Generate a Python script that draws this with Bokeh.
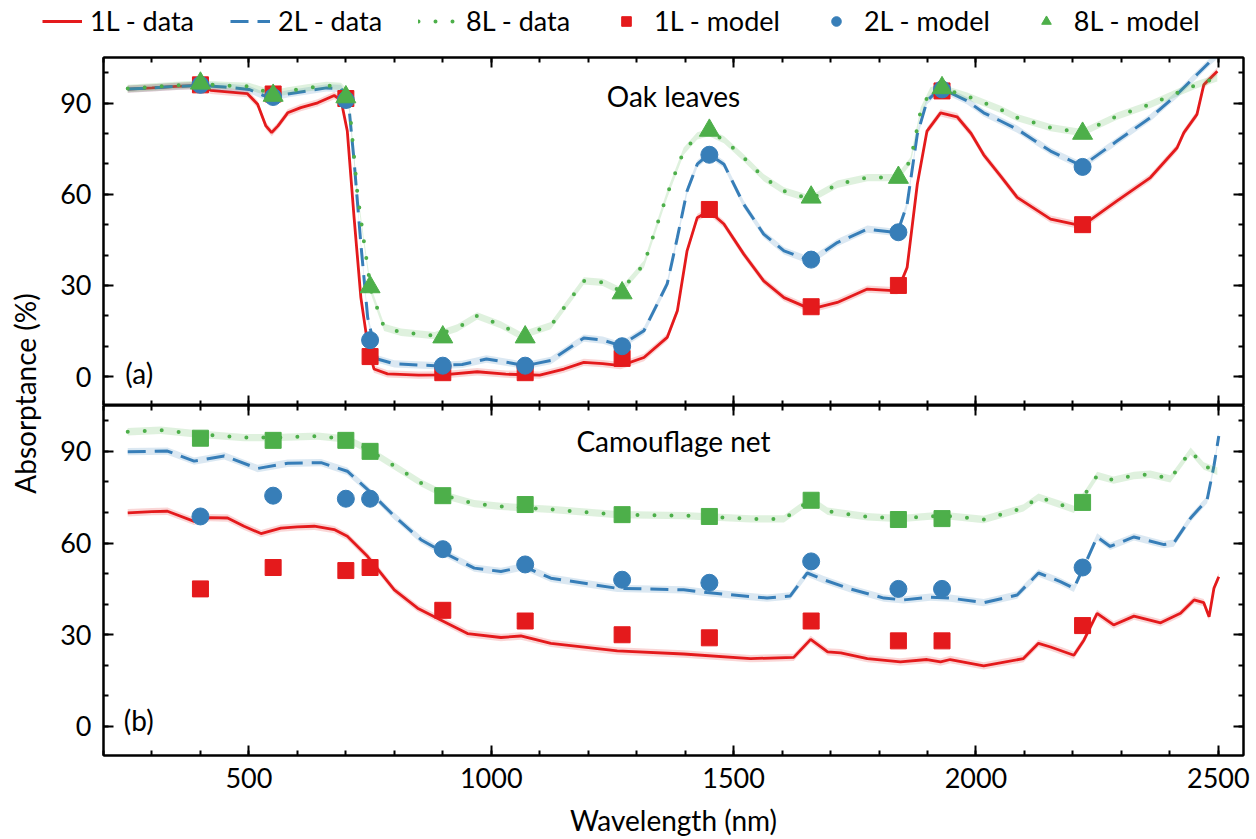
import numpy as np
from bokeh.plotting import figure
from bokeh.models import (LinearAxis, SingleIntervalTicker, Legend, LegendItem, Label, Range1d,
                          CustomJSTickFormatter)
from bokeh.layouts import row, column
from bokeh.embed import file_html
from bokeh.resources import INLINE

# ---------------- data ----------------
# Oak leaves (panel a) - measured curves
oak_wl_1L = [250, 300, 350, 400, 421, 450, 497, 518, 535, 547, 560, 580, 607, 642, 676, 690, 703, 717, 731, 745, 758, 786, 850, 900, 971, 1030, 1100, 1150, 1191, 1230, 1267, 1315, 1363, 1384, 1404, 1425, 1449, 1480, 1521, 1562, 1604, 1659, 1714, 1776, 1838, 1858, 1879, 1899, 1927, 1961, 1990, 2016, 2051, 2085, 2154, 2219, 2291, 2360, 2415, 2429, 2456, 2470, 2498]
oak_1L = [94.6, 95.0, 95.5, 95.8, 94.2, 93.8, 93.1, 89.6, 82.5, 80.3, 82.5, 86.8, 88.5, 90.1, 92.5, 91.0, 80.8, 52.3, 26.0, 10.7, 2.5, 0.9, 0.5, 0.6, 1.6, 0.8, 0.5, 2.5, 4.7, 4.3, 3.6, 6.3, 12.9, 21.7, 41.4, 52.3, 54.5, 50.2, 40.3, 31.5, 26.0, 22.2, 24.4, 28.8, 28.2, 35.9, 63.3, 80.8, 86.8, 85.5, 80.0, 73.0, 66.0, 59.0, 51.8, 49.6, 57.8, 65.5, 75.3, 80.3, 86.3, 96.0, 100.5]

oak_wl_2L = [250, 300, 350, 400, 450, 500, 530, 550, 580, 620, 660, 690, 705, 717, 731, 745, 765, 800, 883, 940, 990, 1040, 1070, 1123, 1191, 1230, 1267, 1315, 1363, 1384, 1404, 1425, 1449, 1480, 1521, 1562, 1604, 1659, 1714, 1776, 1838, 1858, 1879, 1899, 1927, 1947, 1982, 2016, 2051, 2085, 2154, 2219, 2291, 2360, 2415, 2456, 2484, 2500]
oak_2L = [94.6, 95.0, 95.5, 95.8, 95.3, 94.5, 92.5, 92.0, 93.0, 94.0, 95.0, 94.8, 91.0, 71.0, 43.6, 19.5, 5.8, 4.2, 3.6, 4.0, 5.8, 4.5, 3.6, 5.3, 12.7, 12.0, 10.2, 15.1, 30.5, 45.8, 61.1, 69.9, 73.2, 69.9, 56.7, 46.9, 41.4, 38.1, 44.1, 48.5, 47.4, 56.7, 79.7, 90.7, 95.0, 93.4, 90.7, 86.8, 84.1, 81.4, 74.2, 69.3, 77.5, 85.2, 92.9, 99.4, 103.8, 106.0]

oak_wl_8L = [250, 300, 350, 400, 450, 500, 530, 550, 580, 620, 660, 690, 705, 724, 738, 752, 779, 814, 883, 930, 971, 1020, 1061, 1123, 1191, 1230, 1267, 1315, 1363, 1397, 1425, 1449, 1480, 1521, 1562, 1604, 1659, 1714, 1776, 1838, 1865, 1886, 1906, 1927, 1982, 2051, 2085, 2154, 2219, 2291, 2360, 2415, 2456, 2498]
oak_8L = [94.8, 95.3, 95.8, 96.2, 95.8, 95.5, 94.0, 93.0, 94.0, 95.0, 95.8, 95.5, 93.0, 60.0, 43.6, 28.2, 16.2, 14.6, 13.5, 16.0, 20.0, 17.0, 13.5, 16.8, 31.5, 31.0, 28.2, 37.0, 60.0, 74.2, 79.2, 80.3, 78.0, 72.0, 65.5, 61.1, 58.4, 63.3, 65.5, 65.5, 71.0, 87.4, 94.0, 95.0, 92.3, 87.9, 85.2, 81.9, 80.3, 85.7, 89.6, 93.4, 96.1, 98.3]

# Camouflage net (panel b) - measured curves
net_wl_1L = [250, 300, 332, 387, 420, 456, 490, 525, 566, 600, 635, 676, 703, 745, 800, 848, 910, 951, 1020, 1061, 1123, 1260, 1397, 1535, 1624, 1659, 1694, 1721, 1776, 1844, 1899, 1927, 1947, 2016, 2098, 2129, 2154, 2202, 2223, 2250, 2284, 2326, 2381, 2422, 2450, 2470, 2481, 2491, 2501]
net_1L = [69.9, 70.3, 70.4, 67.1, 68.3, 68.2, 65.5, 63.1, 64.9, 65.3, 65.5, 64.4, 62.2, 55.6, 44.7, 38.7, 33.7, 30.4, 29.1, 29.6, 27.2, 24.7, 23.7, 22.2, 22.6, 28.5, 24.4, 24.1, 22.2, 21.1, 21.9, 21.1, 21.9, 19.8, 22.2, 27.2, 26.0, 23.3, 28.3, 37.0, 33.2, 36.1, 33.9, 37.0, 41.4, 40.5, 35.9, 45.2, 49.0]

net_wl_2L = [250, 332, 387, 449, 518, 580, 649, 703, 745, 800, 855, 910, 965, 1020, 1068, 1123, 1260, 1397, 1445, 1569, 1617, 1652, 1686, 1741, 1810, 1851, 1906, 1947, 2016, 2085, 2129, 2174, 2202, 2229, 2250, 2277, 2326, 2388, 2408, 2443, 2477, 2491, 2501]
net_2L = [89.9, 90.1, 86.8, 88.5, 84.4, 86.1, 86.3, 83.5, 77.5, 68.8, 61.1, 56.2, 51.8, 50.7, 52.3, 48.5, 45.2, 44.7, 43.8, 42.0, 42.7, 50.2, 48.0, 45.0, 42.0, 41.4, 42.3, 42.0, 40.5, 43.0, 50.2, 47.4, 45.2, 54.5, 62.0, 58.9, 62.0, 59.5, 60.0, 68.2, 74.2, 85.2, 95.0]

net_wl_8L = [250, 318, 400, 490, 552, 642, 703, 745, 800, 855, 910, 965, 1020, 1123, 1260, 1397, 1535, 1604, 1659, 1694, 1776, 1844, 1906, 1947, 2016, 2098, 2129, 2174, 2202, 2229, 2250, 2284, 2326, 2360, 2401, 2443, 2470, 2498]
net_8L = [96.4, 96.9, 95.6, 94.5, 94.5, 95.0, 94.0, 90.7, 85.2, 79.7, 75.3, 72.9, 72.0, 71.0, 69.3, 69.0, 67.9, 67.9, 74.2, 70.4, 68.6, 68.0, 68.8, 68.8, 67.7, 71.5, 75.0, 72.6, 71.0, 77.0, 82.1, 80.6, 82.1, 82.5, 81.0, 90.1, 85.2, 83.5]

# Model points (both panels)
model_wl = [400, 550, 700, 750, 900, 1070, 1270, 1450, 1660, 1840, 1930, 2220]
oak_model_1L = [96.0, 93.0, 91.5, 6.6, 1.3, 1.3, 6.0, 55.0, 23.0, 30.0, 94.0, 50.0]
oak_model_2L = [96.0, 92.0, 91.0, 12.0, 3.6, 3.6, 10.0, 73.0, 38.5, 47.5, 94.5, 69.0]
oak_model_8L = [96.5, 92.5, 92.0, 29.5, 13.0, 13.0, 27.5, 81.0, 59.0, 65.5, 95.0, 80.0]
net_model_1L = [45.0, 52.0, 51.0, 52.0, 38.0, 34.5, 30.0, 29.0, 34.5, 28.0, 28.0, 33.0]
net_model_2L = [68.7, 75.5, 74.5, 74.5, 58.0, 53.0, 48.0, 47.0, 54.0, 45.0, 45.0, 52.0]
net_model_8L = [94.3, 93.6, 93.6, 90.0, 75.5, 72.6, 69.3, 68.7, 74.0, 67.7, 68.0, 73.3]

band_halfwidth = 1.2

legend_labels = ["1L - data", "2L - data", "8L - data", "1L - model", "2L - model", "8L - model"]
panel_titles = ["Oak leaves", "Camouflage net"]
panel_tags = ["(a)", "(b)"]

# ---------------- style ----------------
FONT = "Lato"
RED, BLUE, GREEN = "#e41a1c", "#377eb8", "#4daf4a"
DASH = "18 9"
DOT = "0 17"
XR = (200, 2552)
YR = (-9.5, 105)
W = 1211
LEFT, RIGHT = 58, 13
LEG_H = 45


def add_axes(p, show_bottom_labels):
    def mk(xaxis, labels, location):
        ticker = SingleIntervalTicker(interval=500, num_minor_ticks=5) if xaxis else \
            SingleIntervalTicker(interval=30, num_minor_ticks=3)
        ax = LinearAxis(ticker=ticker, axis_line_width=2, axis_line_color="black",
                        major_tick_line_width=2, minor_tick_line_width=2,
                        major_tick_line_color="black", minor_tick_line_color="black",
                        major_tick_in=10, major_tick_out=0, minor_tick_in=5, minor_tick_out=0,
                        major_label_text_font=FONT, major_label_text_font_size="27px",
                        major_label_text_color="black", major_label_standoff=12)
        if not labels:
            ax.formatter = CustomJSTickFormatter(code="return ''")
            ax.major_label_standoff = 0
        p.add_layout(ax, location)
        return ax
    mk(False, True, "left")
    mk(False, False, "right")
    mk(True, False, "above")
    return mk(True, show_bottom_labels, "below")


def make_panel(height, top_border, bottom_border):
    p = figure(width=W, height=height, x_range=Range1d(*XR), y_range=Range1d(*YR),
               x_axis_location=None, y_axis_location=None, toolbar_location=None,
               output_backend="svg", min_border_left=LEFT, min_border_right=RIGHT,
               min_border_top=top_border, min_border_bottom=bottom_border)
    p.grid.visible = False
    p.outline_line_color = "black"
    p.outline_line_width = 2
    p.background_fill_color = "white"
    return p


def line_style(color, dash):
    if dash == "dot":
        return dict(line_color=color, line_width=4, line_dash=DOT, line_cap="round")
    if dash == "dash":
        return dict(line_color=color, line_width=3, line_dash=DASH)
    return dict(line_color=color, line_width=2.8)


def draw_series(p, wl, vals, color, dash):
    lo = [v - band_halfwidth for v in vals]
    hi = [v + band_halfwidth for v in vals]
    p.varea(x=wl, y1=lo, y2=hi, fill_color=color, fill_alpha=0.18)
    return p.line(wl, vals, **line_style(color, dash))


def txt(x, y, text, align="center"):
    return Label(x=x, y=y, text=text, text_align=align, text_baseline="middle",
                 text_font=FONT, text_font_size="28px", text_color="black")


# ---- legend strip (proxy renderers hold no visible point) ----
leg = figure(width=1256, height=LEG_H, x_range=Range1d(0, 1), y_range=Range1d(0, 1),
             x_axis_location=None, y_axis_location=None, toolbar_location=None,
             output_backend="svg", min_border=0)
leg.grid.visible = False
leg.outline_line_color = None
nan = [float("nan")]
proxies = [
    leg.line(nan, nan, **line_style(RED, "solid")),
    leg.line(nan, nan, **line_style(BLUE, "dash")),
    leg.line(nan, nan, **line_style(GREEN, "dot")),
    leg.scatter(nan, nan, marker="square", size=16, color=RED),
    leg.scatter(nan, nan, marker="circle", size=17, color=BLUE),
    leg.scatter(nan, nan, marker="triangle", size=20, color=GREEN),
]
legend = Legend(items=[LegendItem(label=legend_labels[i], renderers=[r])
                       for i, r in enumerate(proxies)],
                orientation="horizontal", location=(42, 8),
                label_text_font=FONT, label_text_font_size="27px", label_text_color="black",
                glyph_width=40, glyph_height=24, label_standoff=8, spacing=36,
                padding=0, margin=0, border_line_color=None, background_fill_alpha=0)
leg.add_layout(legend)

# ---- top panel ----
top = make_panel(405 - LEG_H, 57 - LEG_H, 0)
add_axes(top, False)
draw_series(top, oak_wl_1L, oak_1L, RED, "solid")
draw_series(top, oak_wl_2L, oak_2L, BLUE, "dash")
draw_series(top, oak_wl_8L, oak_8L, GREEN, "dot")
top.scatter(model_wl, oak_model_1L, marker="square", size=16, color=RED)
top.scatter(model_wl, oak_model_2L, marker="circle", size=17, color=BLUE)
top.scatter(model_wl, oak_model_8L, marker="triangle", size=20, color=GREEN)
top.add_layout(txt((XR[0] + XR[1]) / 2, 92.3, panel_titles[0]))
top.add_layout(txt(245, 1.3, panel_tags[0], "left"))

# ---- bottom panel ----
bot = make_panel(434, 0, 84)
xax = add_axes(bot, True)
xax.axis_label = "Wavelength (nm)"
xax.axis_label_text_font = FONT
xax.axis_label_text_font_size = "28px"
xax.axis_label_text_font_style = "normal"
xax.axis_label_text_color = "black"
xax.axis_label_standoff = 12
draw_series(bot, net_wl_1L, net_1L, RED, "solid")
draw_series(bot, net_wl_2L, net_2L, BLUE, "dash")
draw_series(bot, net_wl_8L, net_8L, GREEN, "dot")
bot.scatter(model_wl, net_model_1L, marker="square", size=16, color=RED)
bot.scatter(model_wl, net_model_2L, marker="circle", size=17, color=BLUE)
bot.scatter(model_wl, net_model_8L, marker="square", size=16, color=GREEN)
bot.add_layout(txt((XR[0] + XR[1]) / 2, 93.3, panel_titles[1]))
bot.add_layout(txt(242, 2.0, panel_tags[1], "left"))

# ---- shared y label ----
LAB_H = 839 - LEG_H
lab = figure(width=45, height=LAB_H, x_range=Range1d(0, 45), y_range=Range1d(0, LAB_H),
             x_axis_location=None, y_axis_location=None, toolbar_location=None,
             output_backend="svg", min_border=0)
lab.grid.visible = False
lab.outline_line_color = None
lab.add_layout(Label(x=24, y=839 - 393, text="Absorptance (%)", angle=np.pi / 2,
                     text_align="center", text_baseline="middle", text_color="black",
                     text_font=FONT, text_font_size="28px"))

layout = column(leg, row(lab, column(top, bot)))
open("out.html", "w").write(file_html(layout, INLINE))
